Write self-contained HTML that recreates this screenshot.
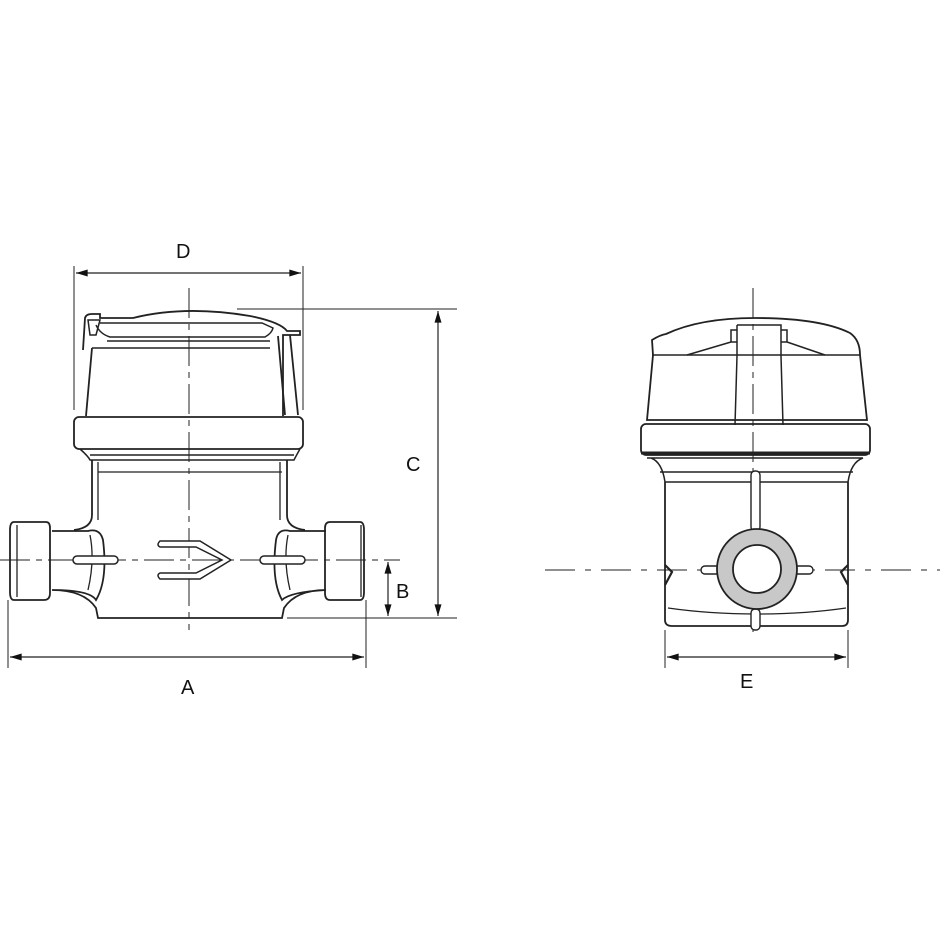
<!DOCTYPE html>
<html><head><style>html,body{margin:0;padding:0;background:#fff}svg{display:block}
text{font-family:"Liberation Sans",sans-serif;font-size:20px;fill:#111}</style></head>
<body>
<svg width="940" height="940" viewBox="0 0 940 940" xmlns="http://www.w3.org/2000/svg">
<defs>
<marker id="ar" viewBox="0 0 10 6" refX="10" refY="3" markerWidth="12" markerHeight="7" orient="auto-start-reverse" markerUnits="userSpaceOnUse"><path d="M0,0 L10,3 L0,6z" fill="#111"/></marker>
</defs>
<g fill="none" stroke="#222" stroke-width="1.2">
<path d="M189,288 V630" stroke-dasharray="30,6,6,6" stroke-width="1"/>
<path d="M0,560 H400" stroke-dasharray="30,6,6,6" stroke-width="1"/>
<path d="M74,266 V410 M303,266 V410" stroke-width="1"/>
<path d="M76,273 H301" marker-start="url(#ar)" marker-end="url(#ar)"/>
<path d="M237,309 H457 M287,618 H457" stroke-width="1"/>
<path d="M438,311 V616" marker-start="url(#ar)" marker-end="url(#ar)"/>
<path d="M388,562 V616" marker-start="url(#ar)" marker-end="url(#ar)"/>
<path d="M8,600 V668 M366,600 V668" stroke-width="1"/>
<path d="M10,657 H364" marker-start="url(#ar)" marker-end="url(#ar)"/>
<path d="M83,350 L85,318 Q86,314 92,314 L100,314 L100,318 L133,318 Q185,305 250,316 Q280,322 287,331 L300,331 L300,335 L283,335 L283,416" stroke-width="1.8"/>
<path d="M88,320 L90,335 L96,335 L100,320 Z M96,325 Q100,334 110,337 L265,337 Q272,333 273,328 L262,323 L100,323" stroke-width="1.5"/>
<path d="M107,341 L270,341 M92,348 L270,348" stroke-width="1.5"/>
<path d="M92,348 L86,416 M278,336 L285,415 M290,335 L298,415" stroke-width="1.8"/>
<rect x="74" y="417" width="229" height="32" rx="5" stroke-width="1.8"/>
<path d="M80,449 Q88,456 90,460 H294 Q296,456 300,449 M90,455 H294" stroke-width="1.5"/>
<path d="M92,460 V515 Q92,528 74,530 M287,460 V515 Q287,528 305,530" stroke-width="1.8"/>
<path d="M98,462 V520 M280,462 V520 M98,472 H282" stroke-width="1.3"/>
<path d="M52,531 H88 Q100,528 103,540 Q108,580 96,600 Q90,590 52,590 M52,590 Q84,590 96,608 L98,618 H282 L284,608 Q296,590 326,590 M326,531 H290 Q278,528 276,540 Q271,580 282,600 Q290,592 326,590" stroke-width="1.8"/>
<path d="M90,535 Q95,560 88,590 M288,535 Q283,560 290,590" stroke-width="1.3"/>
<path d="M14,522 H46 Q50,522 50,528 V593 Q50,600 44,600 H14 Q10,600 10,592 V530 Q10,522 14,522 Z" stroke-width="1.8"/>
<path d="M17,525 V597" stroke-width="1.3"/>
<path d="M330,522 H360 Q364,522 364,530 V592 Q364,600 360,600 H330 Q325,600 325,593 V528 Q325,522 330,522 Z" stroke-width="1.8"/>
<path d="M361,525 V597" stroke-width="1.3"/>
<rect x="73" y="556" width="45" height="8" rx="4" fill="#fff" stroke-width="1.5"/>
<rect x="260" y="556" width="45" height="8" rx="4" fill="#fff" stroke-width="1.5"/>
<path d="M160,541 Q156,545 160,547 H196 L222,560 L196,573 H160 Q156,575 160,579 H200 L231,560 L200,541 Z" fill="#fff" stroke-width="1.5"/>
<path d="M753,288 V632" stroke-dasharray="30,6,6,6" stroke-width="1"/>
<path d="M545,570 H940" stroke-dasharray="30,10,6,10" stroke-width="1"/>
<path d="M665,630 V668 M848,630 V668" stroke-width="1"/>
<path d="M667,657 H846" marker-start="url(#ar)" marker-end="url(#ar)"/>
<path d="M653,355 L652,340 Q660,335 666,334 Q700,318 755,318 Q820,318 850,333 Q860,340 860,355 L867,420 H647 Z" stroke-width="1.8"/>
<path d="M652,355 H860" stroke-width="1.5"/>
<path d="M737,325 H781 V356 L783,425 M737,325 V356 L735,425 M731,330 H737 V342 H731 Z M781,330 H787 V342 H781 Z M687,355 L731,342 M787,342 L825,355" stroke-width="1.5"/>
<rect x="641" y="424" width="229" height="31" rx="5" stroke-width="1.8"/>
<path d="M641,453 H870" stroke-width="3"/>
<path d="M647,458 H863 M651,458 Q662,462 665,482 M863,458 Q851,462 848,482 M660,472 H853 M665,482 H848" stroke-width="1.5"/>
<path d="M665,482 V620 Q665,626 672,626 H842 Q848,626 848,620 V482" stroke-width="1.8"/>
<path d="M668,608 Q710,614 757,614 Q805,614 846,608" stroke-width="1.3"/>
<path d="M665,565 L672,572 L665,585 M848,565 L841,572 L848,585" stroke-width="2.2"/>
<rect x="751" y="471" width="9" height="60" rx="4" fill="#fff" stroke-width="1.4"/>
<rect x="751" y="609" width="9" height="21" rx="4" fill="#fff" stroke-width="1.4"/>
<rect x="701" y="566" width="112" height="8" rx="4" fill="#fff" stroke-width="1.4"/>
<circle cx="757" cy="569" r="40" fill="#c8c8c8" stroke-width="1.8"/>
<circle cx="757" cy="569" r="24" fill="#fff" stroke-width="1.8"/>
</g>
<text x="176" y="258">D</text>
<text x="406" y="471">C</text>
<text x="396" y="598">B</text>
<text x="181" y="694">A</text>
<text x="740" y="688">E</text>
</svg>
</body></html>
